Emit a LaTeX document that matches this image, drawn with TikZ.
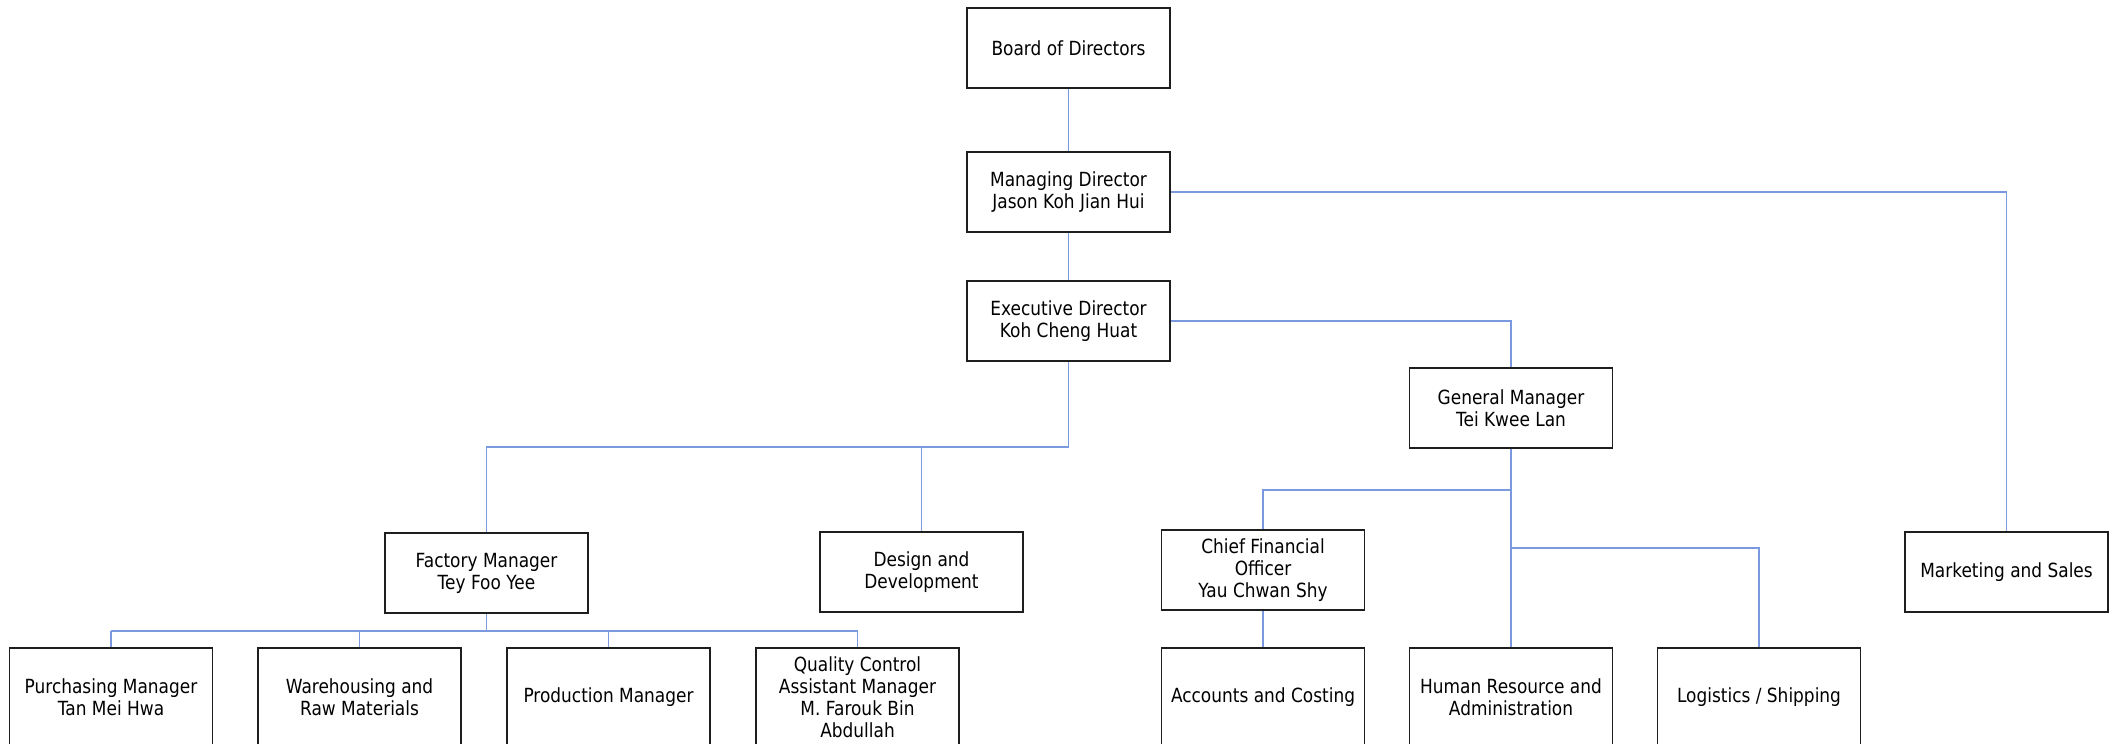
\documentclass[tikz,border=0pt]{standalone}
\usepackage{fontspec}
\setmainfont{DejaVu Sans}[FakeStretch=0.87]
\definecolor{conn}{RGB}{122,153,222}
\definecolor{edge}{RGB}{30,30,30}
\tikzset{
  box/.style={draw=edge, line width=1.8pt, fill=white, minimum width=203pt, minimum height=80pt,
    align=center, inner sep=2pt, font=\fontsize{19.5}{22}\selectfont},
  lowbox/.style={box, minimum height=98pt},
  link/.style={draw=conn, line width=1.3pt},
}
\begin{document}
\begin{tikzpicture}[x=1pt,y=-1pt]
\useasboundingbox[fill=white] (0,0) rectangle (2117,744);
% nodes
\node[box] (bod) at (1068.5,48) {Board of Directors};
\node[box] (md) at (1068.5,192) {Managing Director\\Jason Koh Jian Hui};
\node[box] (ed) at (1068.5,321) {Executive Director\\Koh Cheng Huat};
\node[box] (gm) at (1511,408) {General Manager\\Tei Kwee Lan};
\node[box] (fm) at (486.5,573) {Factory Manager\\Tey Foo Yee};
\node[box] (dd) at (921.5,572) {Design and\\Development};
\node[box] (cfo) at (1263,570) {Chief Financial\\Officer\\Yau Chwan Shy};
\node[box] (mkt) at (2006.5,572) {Marketing and Sales};
\node[lowbox] (pm) at (111,697) {Purchasing Manager\\Tan Mei Hwa};
\node[lowbox] (wh) at (359.5,697) {Warehousing and\\Raw Materials};
\node[lowbox] (prod) at (608.5,697) {Production Manager};
\node[lowbox] (qc) at (857.5,697) {Quality Control\\Assistant Manager\\M. Farouk Bin\\Abdullah};
\node[lowbox] (acc) at (1263,697) {Accounts and Costing};
\node[lowbox] (hr) at (1511,697) {Human Resource and\\Administration};
\node[lowbox] (log) at (1759,697) {Logistics / Shipping};
% junctions
\coordinate (j1) at (1068.5,447);
\coordinate (j2) at (486.5,631);
\coordinate (j3) at (1511,490);
\coordinate (j4) at (1511,548);
% connectors
\draw[link] (bod.south) -- (md.north);
\draw[link] (md.south) -- (ed.north);
\draw[link] (md.east) -| (mkt.north);
\draw[link] (ed.east) -| (gm.north);
\draw[link] (ed.south) -- (j1) -| (fm.north);
\draw[link] (j1 -| dd.north) -- (dd.north);
\draw[link] (fm.south) -- (j2);
\draw[link] (j2 -| pm.north) -- (j2 -| qc.north);
\draw[link] (j2 -| pm.north) -- (pm.north);
\draw[link] (j2 -| wh.north) -- (wh.north);
\draw[link] (j2 -| prod.north) -- (prod.north);
\draw[link] (j2 -| qc.north) -- (qc.north);
\draw[link] (gm.south) -- (hr.north);
\draw[link] (j3) -| (cfo.north);
\draw[link] (j4) -| (log.north);
\draw[link] (cfo.south) -- (acc.north);
\end{tikzpicture}
\end{document}
